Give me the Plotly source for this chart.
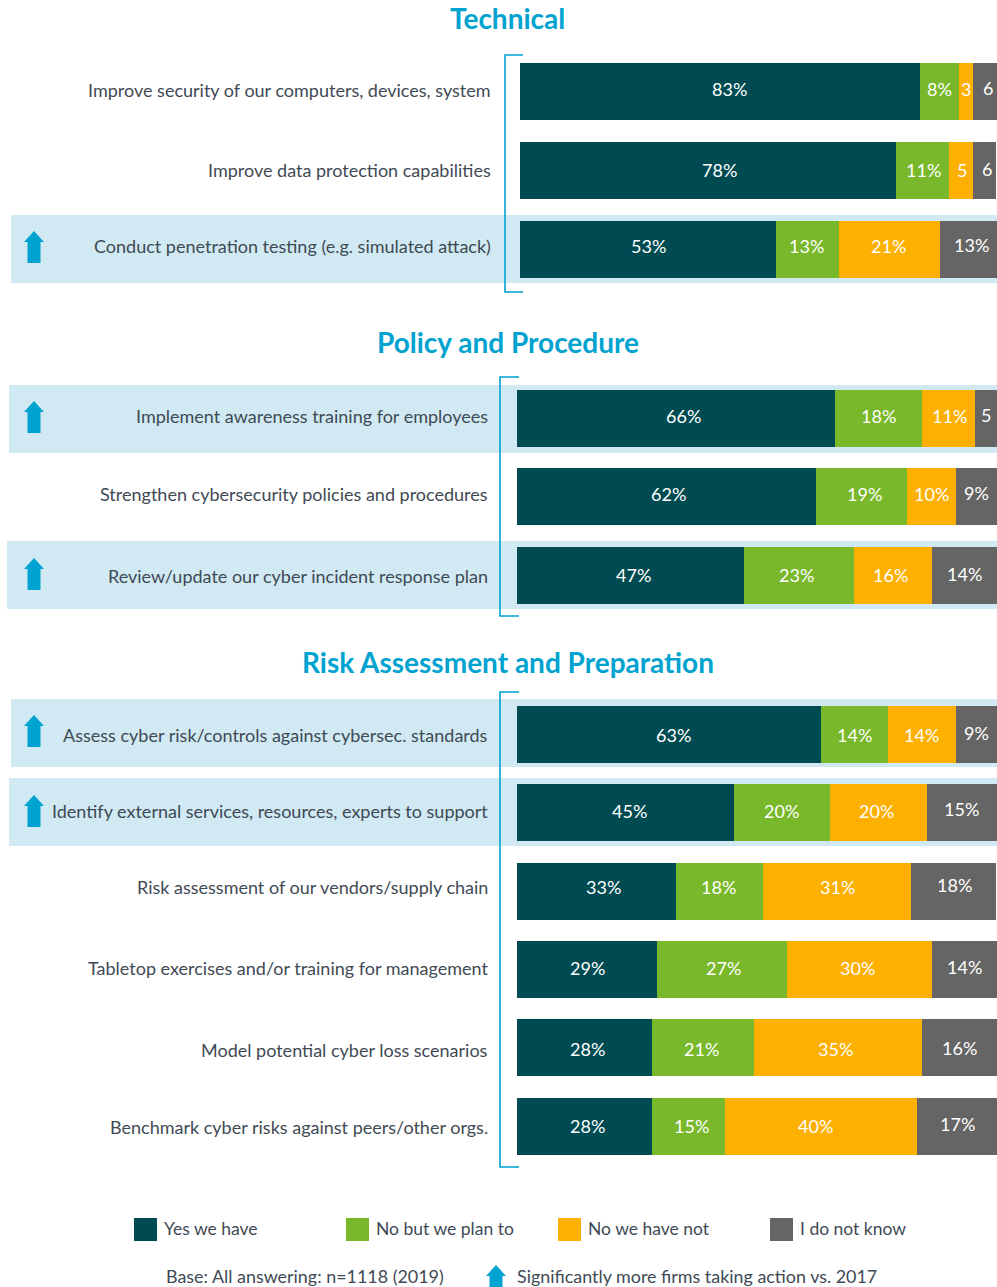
import plotly.graph_objects as go

W, H = 997, 1287
SERIES = ["Yes we have", "No but we plan to", "No we have not", "I do not know"]
COLORS = ["#004b52", "#78b82a", "#fdb000", "#656565"]
FONT = "Lato"
TEXT = "#3f4a55"
BLUE = "#00a3d0"
BAND = "#d0e9f3"

tech_title = "Technical"
tech_rows = ["Improve security of our computers, devices, system",
             "Improve data protection capabilities",
             "Conduct penetration testing (e.g. simulated attack)"]
tech_yes = [83.9, 78.8, 53.7]
tech_plan = [8.2, 11.1, 13.2]
tech_not = [2.9, 5.2, 21.2]
tech_dk = [5.0, 4.8, 11.9]
tech_labels = [["83%", "78%", "53%"], ["8%", "11%", "13%"], ["3", "5", "21%"], ["6", "6", "13%"]]

policy_title = "Policy and Procedure"
policy_rows = ["Implement awareness training for employees",
               "Strengthen cybersecurity policies and procedures",
               "Review/update our cyber incident response plan"]
policy_yes = [66.3, 62.3, 47.3]
policy_plan = [18.1, 19.0, 22.9]
policy_not = [11.0, 10.2, 16.3]
policy_dk = [4.6, 8.5, 13.5]
policy_labels = [["66%", "62%", "47%"], ["18%", "19%", "23%"], ["11%", "10%", "16%"], ["5", "9%", "14%"]]

risk_title = "Risk Assessment and Preparation"
risk_rows = ["Assess cyber risk/controls against cybersec. standards",
             "Identify external services, resources, experts to support",
             "Risk assessment of our vendors/supply chain",
             "Tabletop exercises and/or training for management",
             "Model potential cyber loss scenarios",
             "Benchmark cyber risks against peers/other orgs."]
risk_yes = [63.3, 45.2, 33.1, 29.2, 28.1, 28.1]
risk_plan = [14.0, 20.0, 18.1, 27.1, 21.3, 15.2]
risk_not = [14.2, 20.2, 31.0, 30.2, 35.0, 40.0]
risk_dk = [8.5, 14.6, 17.7, 13.5, 15.6, 16.7]
risk_labels = [["63%", "45%", "33%", "29%", "28%", "28%"],
               ["14%", "20%", "18%", "27%", "21%", "15%"],
               ["14%", "20%", "31%", "30%", "35%", "40%"],
               ["9%", "15%", "18%", "14%", "16%", "17%"]]

base_note = "Base: All answering: n=1118 (2019)"
arrow_note = "Significantly more firms taking action vs. 2017"


def px(x):
    return x / W


def py(y):
    return 1 - y / H


sections = [
    dict(title=tech_title, ty=17.5, rows=tech_rows, vals=[tech_yes, tech_plan, tech_not, tech_dk],
         labels=tech_labels, left=520, top=52.0, bottom=289.0, step=79.0,
         bracket=(505, 55, 292, 523),
         value_dx=[[9, 12, 0], [0, 1, -1], [0, 1, -1], [3, 2, 3]],
         value_dy=[-2.5, -0.5, -3.5], label_dy=[-2, -1, -4],
         bands=[(11, 215, 283, 231)]),
    dict(title=policy_title, ty=341.5, rows=policy_rows, vals=[policy_yes, policy_plan, policy_not, policy_dk],
         labels=policy_labels, left=517, top=379.25, bottom=614.75, step=78.5,
         bracket=(500, 377, 616, 519),
         value_dx=[[7, 2, 3], [0, 3, -2], [1, 0, -2], [0, 0, 0]],
         value_dy=[-2.5, -3, -0.5], label_dy=[-3, -3.5, 0],
         bands=[(9, 385, 453, 401), (7, 541, 609, 558)]),
    dict(title=risk_title, ty=661.5, rows=risk_rows, vals=[risk_yes, risk_plan, risk_not, risk_dk],
         labels=risk_labels, left=517, top=695.3, bottom=1165.7, step=78.4,
         bracket=(500, 692, 1167, 519),
         value_dx=[[5, 4, 7, 0, 3, 3], [0, 0, -1, 1, -1, 3], [-1, -2, 0, -2, -3, -5], [0, 0, 1, 0, 0, 1]],
         value_dy=[0.5, -2, -4.5, -1.5, 1, -0.5], label_dy=[1, -1.5, -4.5, -2, 1.5, 1],
         bands=[(11, 699, 767, 715), (9, 778, 846, 795)]),
]
GRAY_LIFT = 1.5

fig = go.Figure()
shapes, annotations = [], []


def arrow(cx, top, h=32, hw=10, sw=6.5, head=11):
    x = lambda v: px(cx + v)
    y = lambda v: py(top + v)
    return dict(type="path", xref="paper", yref="paper", layer="above", line=dict(width=0), fillcolor=BLUE,
                path=(f"M{x(0)},{y(0)} L{x(hw)},{y(head)} L{x(sw)},{y(head)} L{x(sw)},{y(h)} "
                      f"L{x(-sw)},{y(h)} L{x(-sw)},{y(head)} L{x(-hw)},{y(head)} Z"))


layout_axes = {}
for i, s in enumerate(sections):
    sfx = "" if i == 0 else str(i + 1)
    n = len(s["rows"])
    width_frac = 57 / s["step"]
    running = [0.0] * n
    for k in range(4):
        fig.add_trace(go.Bar(
            y=s["rows"], x=s["vals"][k], name=SERIES[k], orientation="h",
            marker=dict(color=COLORS[k], line=dict(width=0)), width=width_frac,
            cliponaxis=False, xaxis="x" + sfx, yaxis="y" + sfx, showlegend=False,
        ))
        for r in range(n):
            val = s["vals"][k][r]
            lift = GRAY_LIFT if k == 3 else 0
            annotations.append(dict(x=running[r] + val / 2, y=s["rows"][r], xref="x" + sfx, yref="y" + sfx,
                                    text=s["labels"][k][r], showarrow=False, xanchor="center", yanchor="middle",
                                    xshift=s["value_dx"][k][r], yshift=-s["value_dy"][r] + lift,
                                    font=dict(family=FONT, size=18, color="white")))
            running[r] += val
    for r, row in enumerate(s["rows"]):
        annotations.append(dict(x=0, y=row, xref="x" + sfx, yref="y" + sfx, text=row, showarrow=False,
                                xanchor="right", yanchor="middle", xshift=-27, yshift=-s["label_dy"][r],
                                font=dict(family=FONT, size=18, color=TEXT)))
    layout_axes["xaxis" + sfx] = dict(domain=[px(s["left"]), px(997)], range=[0, 100.03], visible=False,
                                      anchor="y" + sfx, fixedrange=True)
    layout_axes["yaxis" + sfx] = dict(domain=[py(s["bottom"]), py(s["top"])], range=[n - 0.5, -0.5], type="category",
                                      categoryorder="array", categoryarray=s["rows"], visible=False,
                                      anchor="x" + sfx, fixedrange=True)
    annotations.append(dict(x=0.5095, y=py(s["ty"]), xref="paper", yref="paper", text=f"<b>{s['title']}</b>",
                            showarrow=False, yanchor="middle", font=dict(family=FONT, size=28, color=BLUE)))
    for x0, y0, y1, atop in s["bands"]:
        shapes.append(dict(type="rect", xref="paper", yref="paper", x0=px(x0), x1=1, y0=py(y1), y1=py(y0),
                           fillcolor=BAND, line=dict(width=0), layer="below"))
        shapes.append(arrow(34, atop))
    bx, by0, by1, bx1 = s["bracket"]
    shapes.append(dict(type="path", xref="paper", yref="paper", layer="above",
                       path=f"M{px(bx1)},{py(by0)} L{px(bx)},{py(by0)} L{px(bx)},{py(by1)} L{px(bx1)},{py(by1)}",
                       line=dict(color=BLUE, width=1.6)))

leg_x = [134, 346, 558, 770]
for name, col, x in zip(SERIES, COLORS, leg_x):
    shapes.append(dict(type="rect", xref="paper", yref="paper", x0=px(x), x1=px(x + 23), y0=py(1241), y1=py(1218),
                       fillcolor=col, line=dict(width=0)))
    annotations.append(dict(x=px(x + 28), y=py(1228), xref="paper", yref="paper", text=name, showarrow=False,
                            xanchor="left", yanchor="middle", font=dict(family=FONT, size=17.5, color=TEXT)))
annotations.append(dict(x=px(163.5), y=py(1276), xref="paper", yref="paper", text=base_note, showarrow=False,
                        xanchor="left", yanchor="middle", font=dict(family=FONT, size=17.9, color=TEXT)))
annotations.append(dict(x=px(514.5), y=py(1276), xref="paper", yref="paper", text=arrow_note, showarrow=False,
                        xanchor="left", yanchor="middle", font=dict(family=FONT, size=17.9, color=TEXT)))
shapes.append(arrow(496, 1265, h=22))

fig.update_layout(width=W, height=H, margin=dict(l=0, r=0, t=0, b=0), barmode="stack", bargap=0,
                  paper_bgcolor="white", plot_bgcolor="rgba(0,0,0,0)", shapes=shapes, annotations=annotations,
                  font=dict(family=FONT, color=TEXT), **layout_axes)
fig.write_html("out.html", config=dict(displayModeBar=False),
               post_script="document.body.style.margin='0';document.documentElement.style.overflow='hidden';")
